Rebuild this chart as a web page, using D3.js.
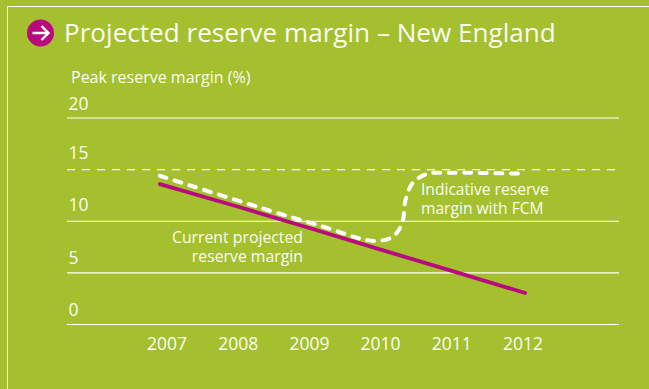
<!DOCTYPE html>
<html>
<head>
<meta charset="utf-8">
<script src="https://cdnjs.cloudflare.com/ajax/libs/d3/7.8.5/d3.min.js"></script>
<style>
html,body{margin:0;padding:0;background:#a4c02f;overflow:hidden}
text{font-family:"Open Sans",sans-serif;fill:#fbfcf2;font-weight:400}
</style>
</head>
<body>
<svg id="chart" width="649" height="389"></svg>
<script>
const titleText = "Projected reserve margin – New England";
const axisTitle = "Peak reserve margin (%)";
const yTicks = [0, 5, 10, 15, 20];
const xYears = [2007, 2008, 2009, 2010, 2011, 2012];

// Current projection, sampled at its ends and each year
const currentYears = [2006.9, 2008, 2009, 2010, 2011, 2012.03];
const currentValues = [13.6, 11.4, 9.35, 7.25, 5.2, 3.05];

// Projection with the capacity market, rising sharply after 2010
const fcmYears = [2006.9, 2008.55, 2009.3, 2009.72, 2009.97, 2010.17, 2010.3, 2010.35, 2010.45, 2010.66, 2010.9, 2012.03];
const fcmValues = [14.4, 10.8, 9.25, 8.3, 8.1, 8.5, 9.75, 12.05, 13.7, 14.6, 14.7, 14.6];

const white = "#fff", magenta = "#b9097f";
const svg = d3.select("#chart");

const x = d3.scaleLinear().domain([2007, 2012]).range([167, 523]);
const y = d3.scaleLinear().domain([0, 20]).range([324.5, 118]);

// Panel frame
svg.append("path").attr("d", "M7.5,389V6.5H649").attr("fill", "none").attr("stroke", white).attr("stroke-width", 1);

// Title with arrow badge
const badge = svg.append("g").attr("transform", "translate(40.5,33)");
badge.append("circle").attr("r", 13.5).attr("fill", magenta);
badge.append("path").attr("d", "M-8,0H8M1,-7L8,0L1,7").attr("fill", "none").attr("stroke", white).attr("stroke-width", 2.4);
svg.append("text").attr("x", 64).attr("y", 42).attr("font-size", 26.1).text(titleText);
svg.append("text").attr("x", 71).attr("y", 83).attr("font-size", 16).text(axisTitle);

// Gridlines and value labels
const labelLift = {0: 9, 5: 8.5, 10: 10, 15: 10.5, 20: 8};
yTicks.forEach(t => {
  svg.append("line").attr("x1", 67).attr("x2", 619).attr("y1", y(t)).attr("y2", y(t))
    .attr("stroke", white).attr("stroke-width", 1.2)
    .attr("stroke-dasharray", t === 15 ? "8 7" : null);
  svg.append("text").attr("x", 68.5).attr("y", y(t) - labelLift[t]).attr("font-size", 17.5).text(t);
});

// Year labels
xYears.forEach(v => {
  svg.append("text").attr("x", x(v)).attr("y", 350).attr("text-anchor", "middle").attr("font-size", 17.5).text(v);
});

const line = d3.line().x(d => x(d[0])).y(d => y(d[1]));

svg.append("path")
  .attr("d", line.curve(d3.curveLinear)(d3.zip(currentYears, currentValues)))
  .attr("fill", "none").attr("stroke", magenta).attr("stroke-width", 3.8).attr("stroke-linecap", "round");

svg.append("path")
  .attr("d", line.curve(d3.curveCatmullRom.alpha(0.5))(d3.zip(fcmYears, fcmValues)))
  .attr("fill", "none").attr("stroke", white).attr("stroke-width", 4)
  .attr("stroke-dasharray", "7 8.5").attr("stroke-linecap", "round");

// Series annotations, two lines each
const notes = [
  {x: 303, y: 243, a: "end", size: 15.8, lines: ["Current projected", "reserve margin"]},
  {x: 421, y: 195, a: "start", size: 15.6, lines: ["Indicative reserve", "margin with FCM"]}
];
notes.forEach(n => {
  const label = svg.append("text").attr("text-anchor", n.a).attr("font-size", n.size);
  n.lines.forEach((t, i) => {
    label.append("tspan").attr("x", n.x).attr("y", n.y + i * 19).text(t);
  });
});
</script>
</body>
</html>
